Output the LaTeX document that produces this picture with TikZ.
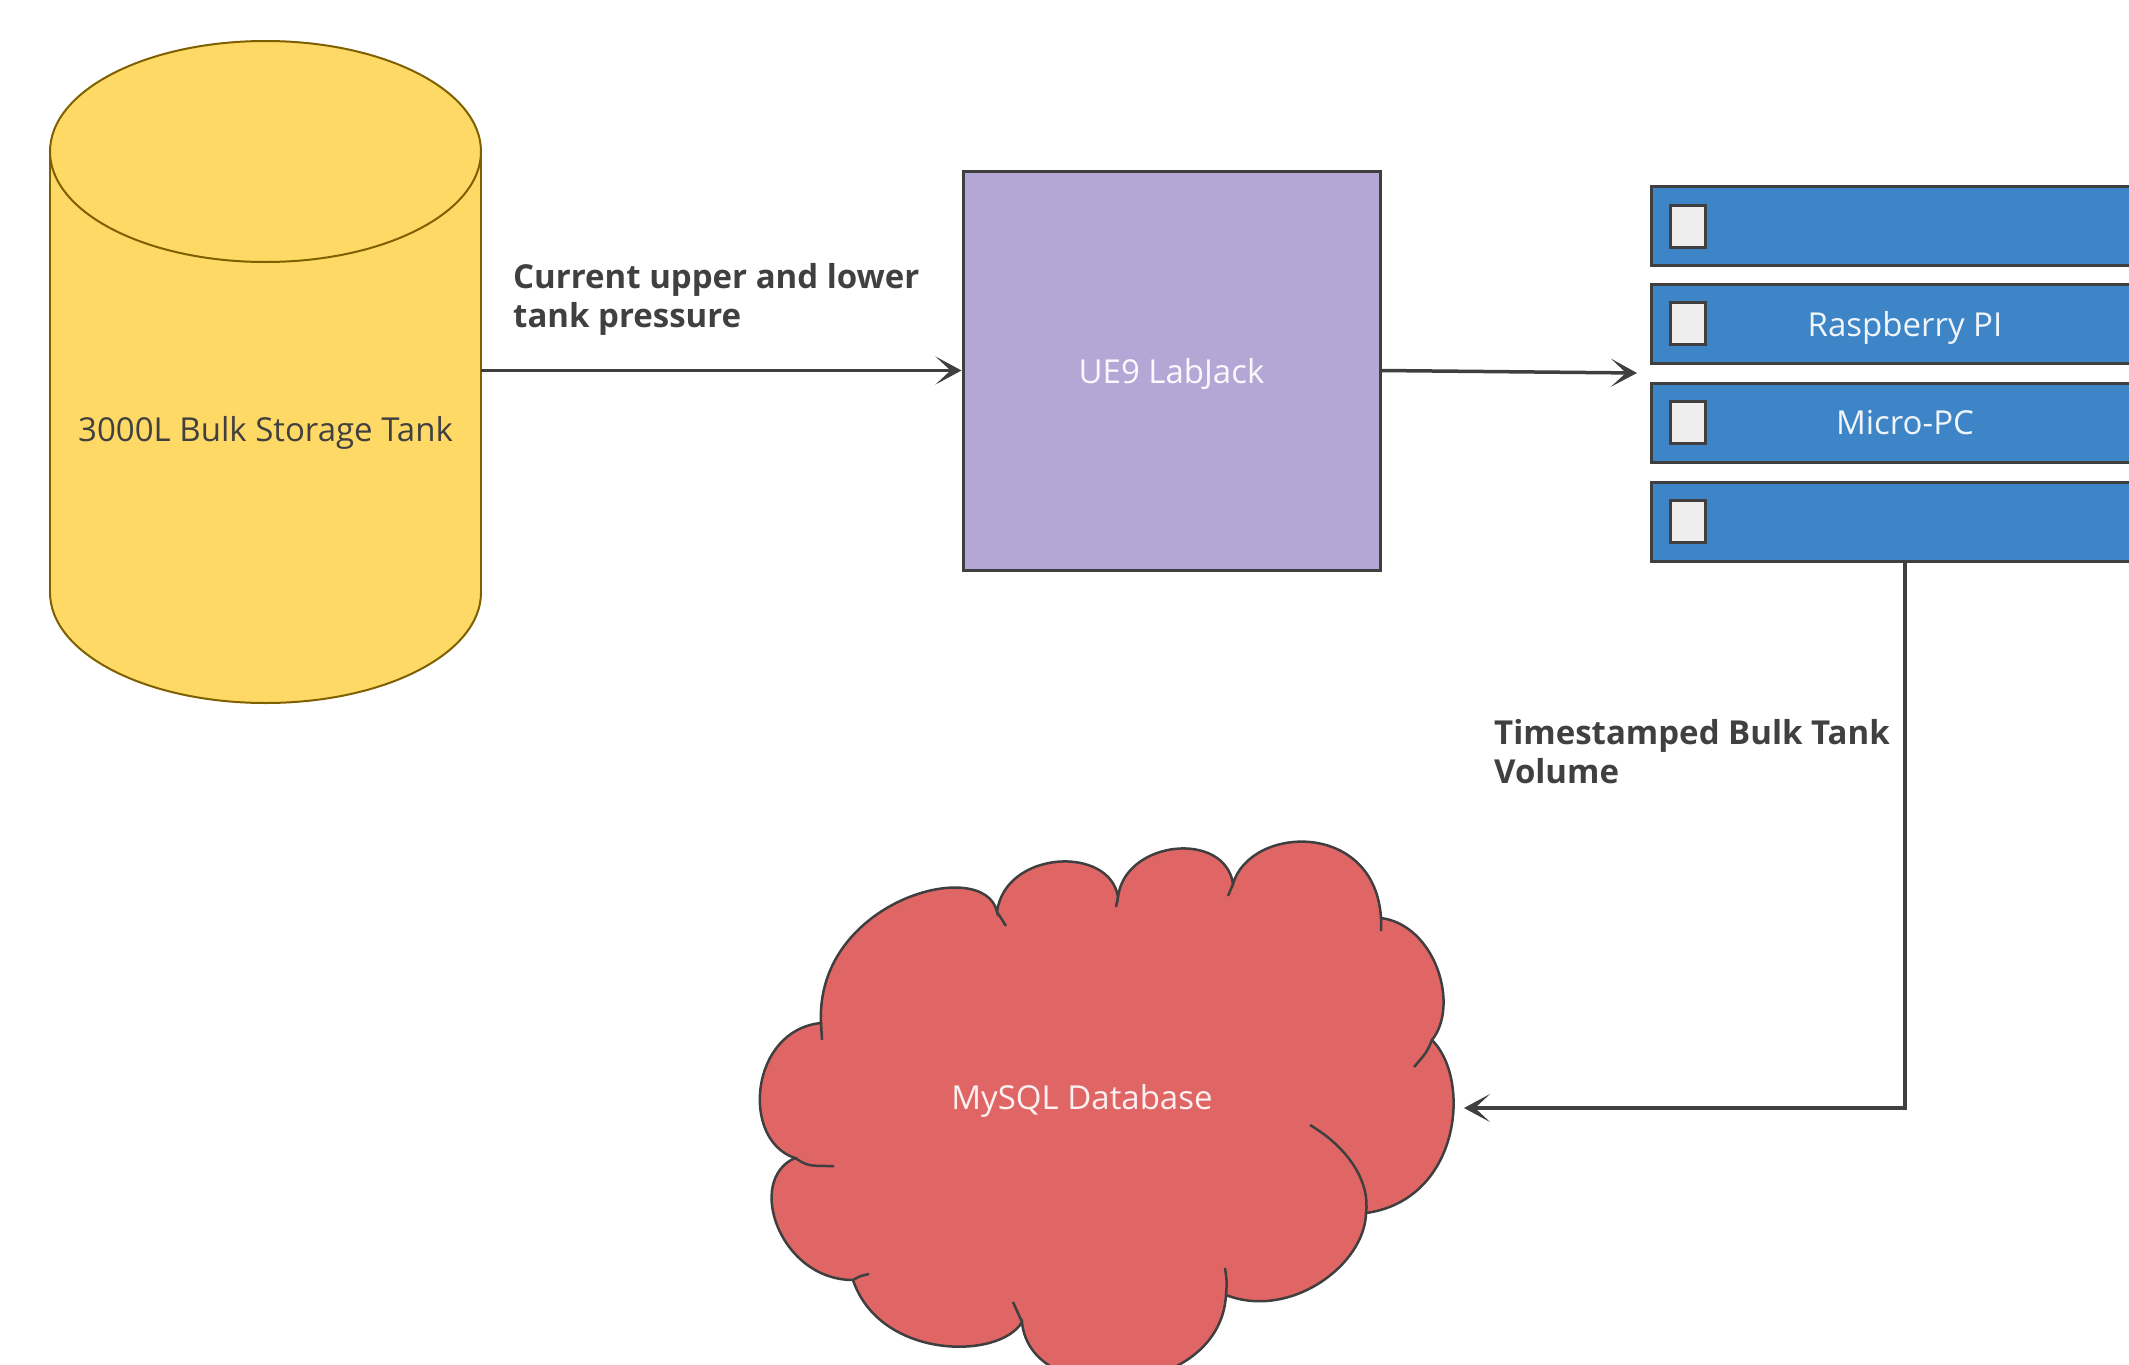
\documentclass[tikz,border=0pt]{standalone}
\usepackage{fontspec}
\setmainfont{Open Sans}
\usetikzlibrary{arrows.meta}
\definecolor{tankfill}{HTML}{FFD966}
\definecolor{tankline}{HTML}{7F6000}
\definecolor{labfill}{HTML}{B4A7D6}
\definecolor{srvfill}{HTML}{3D85C6}
\definecolor{dbfill}{HTML}{E06666}
\definecolor{edge}{HTML}{3F3F3F}
\definecolor{lbl}{HTML}{404040}
\definecolor{ledfill}{HTML}{EEEEEE}
\begin{document}
\begin{tikzpicture}[x=1pt,y=-1pt,
  font=\fontsize{33}{39}\selectfont,
  boxline/.style={draw=edge, line width=3pt},
  labbox/.style={boxline, fill=labfill, text=white!92!labfill, minimum width=417pt, minimum height=399pt, inner sep=0pt, text depth=0pt},
  srvbox/.style={boxline, fill=srvfill, text=white!92!srvfill, minimum width=508pt, minimum height=79pt, inner sep=0pt, text depth=0pt},
  srvled/.style={draw=edge, line width=3pt, fill=ledfill, minimum width=35pt, minimum height=42pt, inner sep=0pt},
  flow/.style={draw=edge, line width=3.5pt, -{Stealth[length=26pt,width=28pt,inset=15pt]}},
  edgelbl/.style={font=\fontsize{33}{39}\selectfont\bfseries, text=lbl, align=left, inner sep=0pt},
]
\useasboundingbox (0,0) rectangle (2129,1365);
\clip (0,0) rectangle (2129,1365);

% tank (cylinder)
\filldraw[fill=tankfill, draw=tankline, line width=2pt] (265.5,592.5) ellipse [x radius=215.5, y radius=110.5];
\fill[tankfill] (50,151.5) rectangle (481,592.5);
\draw[tankline, line width=2pt] (50,151.5) -- (50,592.5) (481,151.5) -- (481,592.5);
\filldraw[fill=tankfill, draw=tankline, line width=2pt] (265.5,151.5) ellipse [x radius=215.5, y radius=110.5];
\node[minimum width=431pt, minimum height=662pt, inner sep=0pt] (tank) at (265.5,372) {};
\node[text=lbl, text depth=0pt] (tanklbl) at (265.5,429) {3000L Bulk Storage Tank};

% LabJack
\node[labbox] (lab) at (1171.5,370.5) {UE9 LabJack};

% server stack
\node[srvbox] (srv1) at (1905,226) {};
\node[srvbox] (srv2) at (1905,323.5) {Raspberry PI};
\node[srvbox] (srv3) at (1905,422.5) {Micro-PC};
\node[srvbox] (srv4) at (1905,521.5) {};
\node[srvled] (led1) at (1687.5,226) {};
\node[srvled] (led2) at (1687.5,323.5) {};
\node[srvled] (led3) at (1687.5,422.5) {};
\node[srvled] (led4) at (1687.5,521.5) {};

% cloud
\filldraw[fill=dbfill, draw=edge, line width=2.5pt]
 (821,1023) .. controls (815,900) and (985,855) .. (997,912)
 .. controls (1005,850) and (1110,845) .. (1118,897)
 .. controls (1125,840) and (1225,830) .. (1233,884)
 .. controls (1250,825) and (1375,820) .. (1381,918)
 .. controls (1435,925) and (1460,1005) .. (1432,1040)
 .. controls (1472,1080) and (1460,1200) .. (1366,1213)
 .. controls (1365,1265) and (1290,1320) .. (1226,1295)
 .. controls (1220,1400) and (1030,1410) .. (1022,1322)
 .. controls (1000,1360) and (880,1360) .. (853,1280)
 .. controls (780,1280) and (745,1180) .. (795,1158)
 .. controls (740,1140) and (750,1030) .. (821,1023) -- cycle;
\draw[edge, line width=2.5pt]
 (997,912) .. controls (1001,918) .. (1006,926)
 (1118,897) -- (1116,907)
 (1233,884) -- (1228,896)
 (1381,918) -- (1381,931)
 (1432,1040) .. controls (1427,1052) .. (1414,1067)
 (1310,1125) .. controls (1352,1150) and (1370,1185) .. (1366,1213)
 (1226,1295) .. controls (1227,1282) .. (1225,1268)
 (1022,1322) .. controls (1018,1312) .. (1013,1302)
 (853,1280) .. controls (860,1276) .. (869,1274)
 (795,1158) .. controls (808,1166) .. (834,1166)
 (821,1023) -- (822,1040);
\node[text=white!90!dbfill, text depth=0pt] (db) at (1082,1097) {MySQL Database};
\coordinate (dbin) at (1464,1108);
\coordinate (srvin) at (1637,373);

% connectors
\draw[flow] (tank.east |- lab.west) -- (lab.west);
\draw[flow] (lab.east) -- (srvin);
\draw[flow] (srv4.south) -- (srv4.south |- dbin) -- (dbin);

% connector labels
\node[edgelbl, anchor=base west] (l1) at (513,327) {Current upper and lower\\tank pressure};
\node[edgelbl, anchor=base west] (l2) at (1494,783) {Timestamped Bulk Tank\\Volume};
\end{tikzpicture}
\end{document}
